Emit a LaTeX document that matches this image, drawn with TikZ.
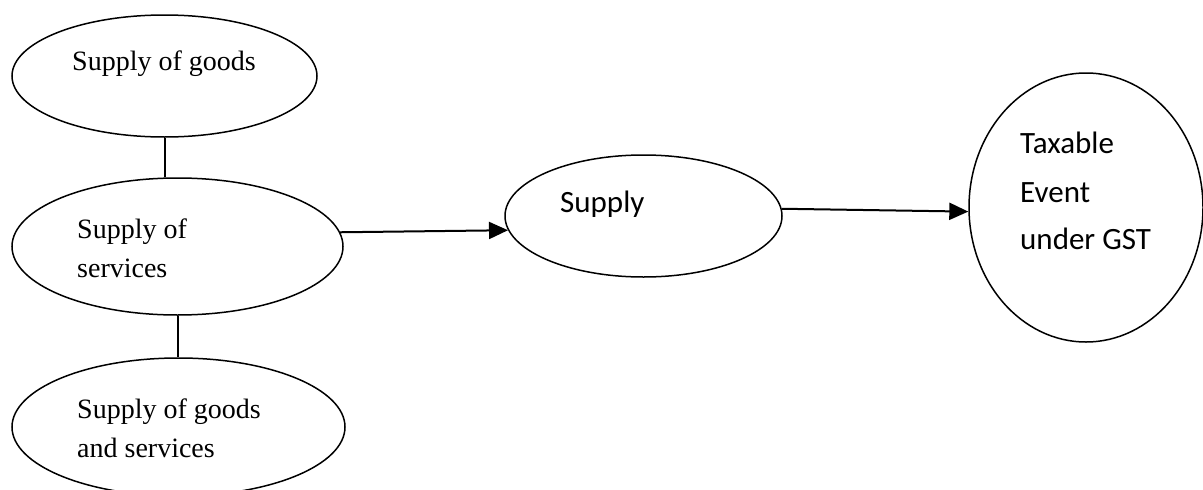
\documentclass[tikz,border=0pt]{standalone}
\usepackage{fontspec}
\setmainfont{Liberation Serif}
\newfontfamily\calfont{Carlito}
\usetikzlibrary{shapes.geometric,arrows.meta}
\tikzset{
  oval/.style={draw=black, ellipse, line width=1.5pt, inner sep=0pt},
  conn/.style={draw=black, line width=2pt},
  arr/.style={conn, -{Triangle[length=19pt,width=17pt]}},
  sertext/.style={anchor=base west, inner sep=0pt, font=\fontsize{28}{34}\selectfont},
  caltext/.style={anchor=base west, inner sep=0pt, font=\calfont\fontsize{31}{38}\selectfont}
}
\begin{document}
\begin{tikzpicture}[x=1pt,y=-1pt]
\useasboundingbox (0,0) rectangle (1203,490);
\begin{scope}
\clip (0,0) rectangle (1203,490);
\node[oval, minimum width=305pt, minimum height=122pt] (g) at (164.5,76) {};
\node[oval, minimum width=331pt, minimum height=137pt] (s) at (177.5,246.5) {};
\node[oval, minimum width=333pt, minimum height=138pt] (gs) at (178.5,427) {};
\node[oval, minimum width=277pt, minimum height=122pt] (sup) at (643.5,216) {};
\node[oval, minimum width=234pt, minimum height=269pt] (tax) at (1086,207.5) {};
\end{scope}

\node[sertext] (t1) at (72,70) {Supply of goods};
\node[sertext] (t2a) at (77,238) {Supply of};
\node[sertext] (t2b) at (77,277) {services};
\node[sertext] (t3a) at (77,418) {Supply of goods};
\node[sertext] (t3b) at (77,457) {and services};
\node[caltext] (t4) at (560,212) {Supply};
\node[caltext] (t5a) at (1020,153) {Taxable};
\node[caltext] (t5b) at (1020,202) {Event};
\node[caltext] (t5c) at (1020,249) {under GST};

\draw[conn] (g.south) -- (g.south |- s.north);
\draw[conn] (s.south) -- (s.south |- gs.north);
\draw[arr] (s.5) -- (sup.186);
\draw[arr] (sup.3) -- (tax.182);
\end{tikzpicture}
\end{document}
